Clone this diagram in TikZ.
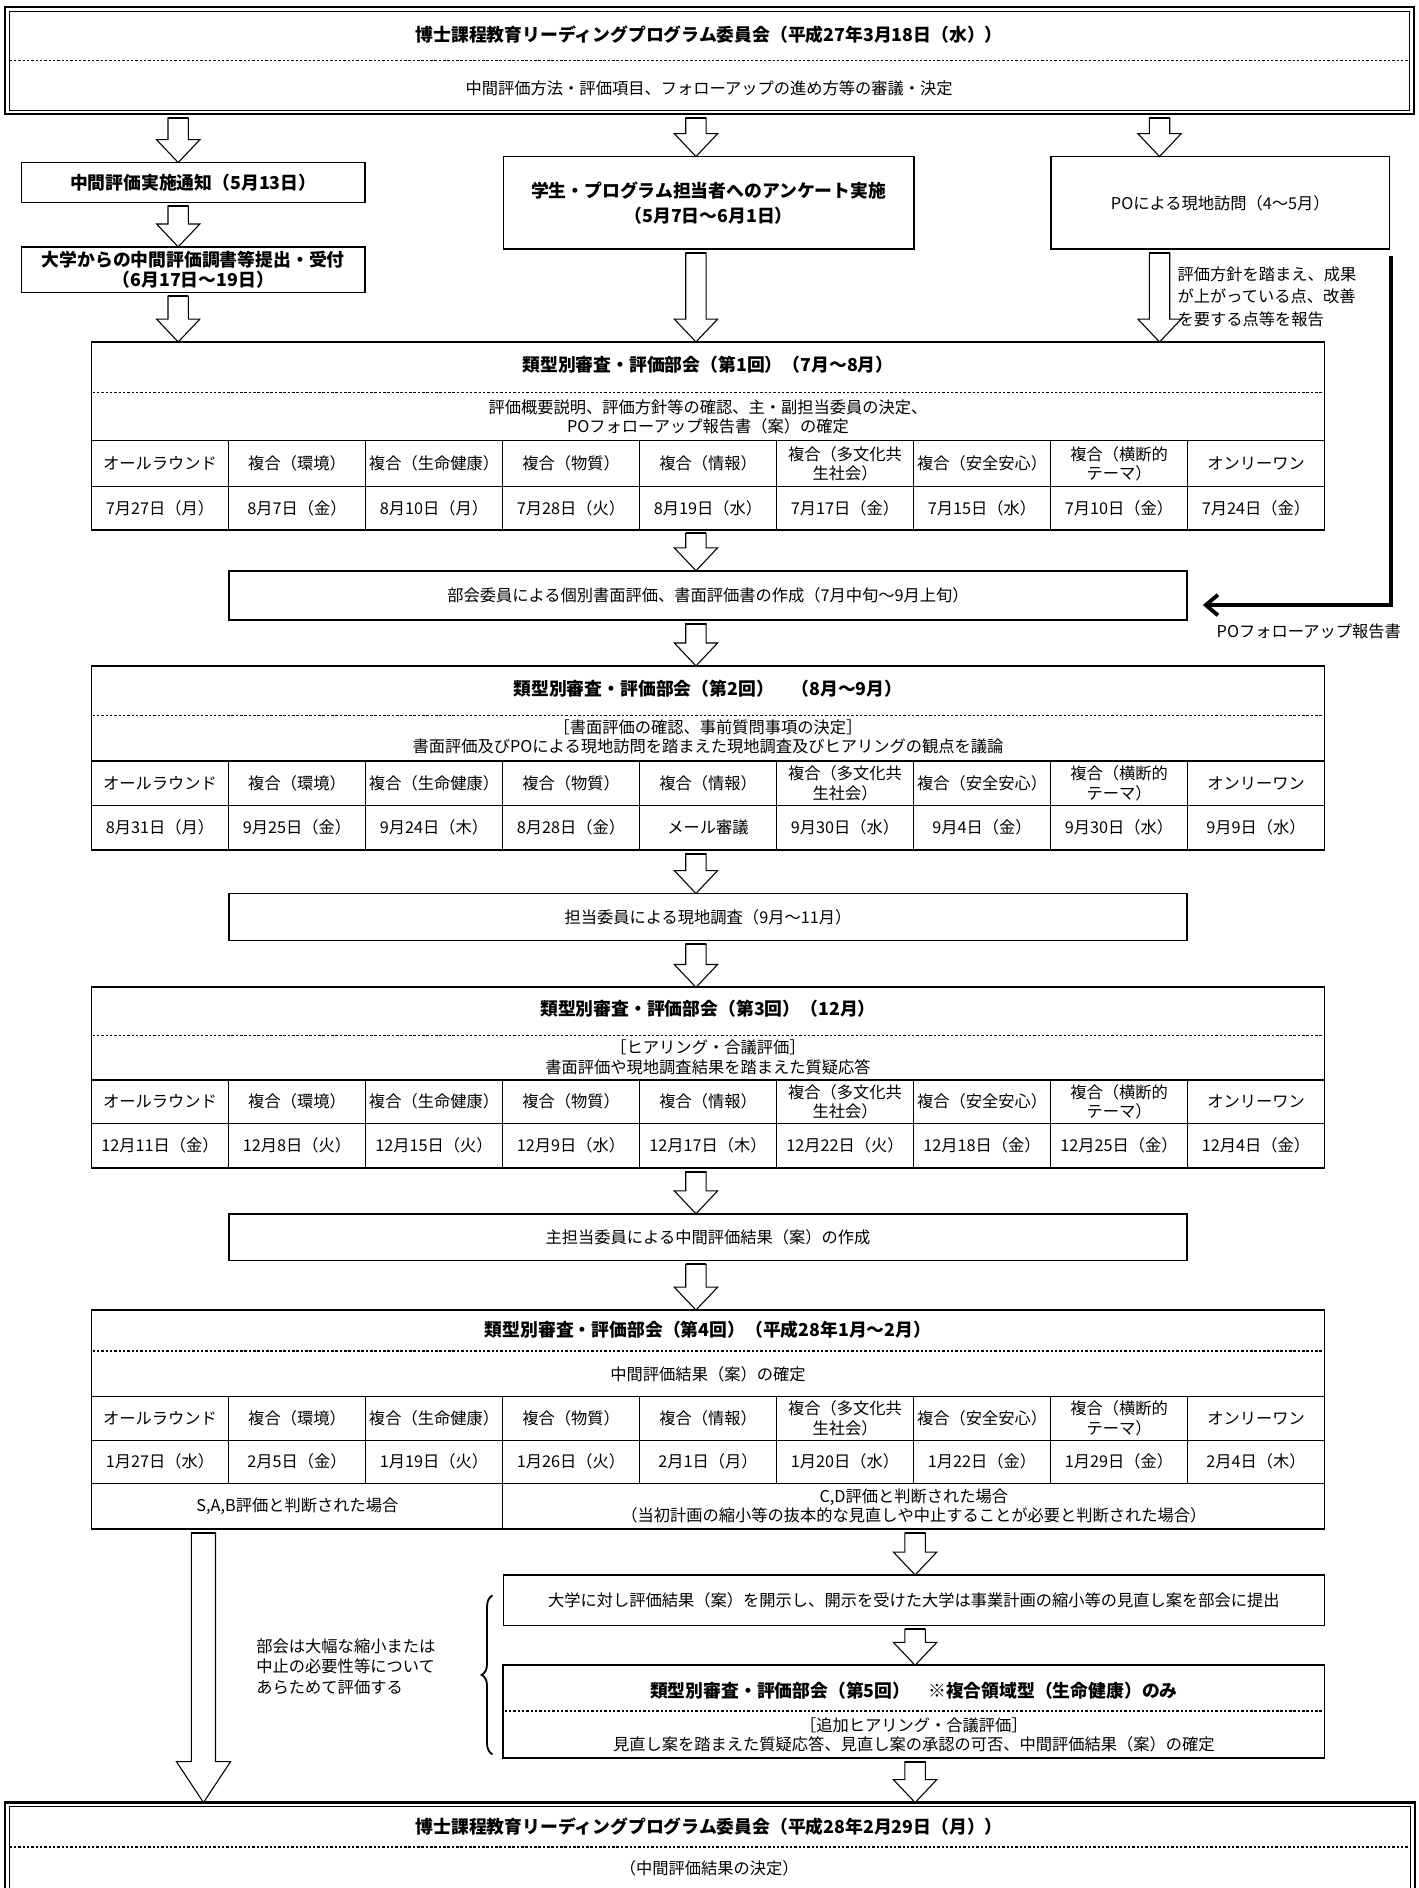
\documentclass[tikz,border=0pt]{standalone}
\usepackage{fontspec}
\setmainfont{Noto Sans CJK JP}
\usetikzlibrary{calc,arrows.meta,decorations.pathreplacing}
\newcommand\tblheads{オールラウンド,複合（環境）,複合（生命健康）,複合（物質）,複合（情報）,{複合（多文化共\\生社会）},複合（安全安心）,{複合（横断的\\テーマ）},オンリーワン}
\tikzset{
  every node/.style={inner sep=0pt, outer sep=0pt},
  txt/.style={font=\fontsize{13.5}{16}\selectfont, align=center},
  ttl/.style={font=\bfseries\fontsize{14.8}{20}\selectfont, align=center},
  outerbox/.style={draw, line width=1.8pt},
  secbox/.style={draw, line width=1.6pt},
  smallbox/.style={draw, line width=1.3pt},
  rule/.style={line width=0.7pt},
  dotrule/.style={line width=1pt, dash pattern=on 2pt off 1.6pt},
  harr/.style={draw, line width=0.9pt, fill=white, line join=miter},
  poarrow/.style={line width=3.2pt, -{Straight Barb[length=10pt,width=17pt]}},
}
% #1 source point, #2 target point, #3 shaft half width, #4 head half width, #5 head length
\newcommand\harrow[5]{%
  \draw[harr] let \p1=(#1), \p2=(#2) in
    (\x1-#3pt,\y1-3pt) -- (\x1-#3pt,\y2+#5pt) -- (\x1-#4pt,\y2+#5pt) -- (\x1,\y2)
    -- (\x1+#4pt,\y2+#5pt) -- (\x1+#3pt,\y2+#5pt) -- (\x1+#3pt,\y1-3pt) -- cycle;
  \draw[line width=1.8pt] let \p1=(#1) in (\x1-#3pt,\y1-3pt) -- (\x1+#3pt,\y1-3pt);}
% #1 prefix, #2 y top, #3 y middle, #4 y bottom, #5 dates
\newcommand\sectable[5]{%
  \draw[line width=1pt] (76,-#2) -- (1100,-#2);
  \draw[rule] (76,-#3) -- (1100,-#3);
  \foreach \k in {1,...,8} {\draw[rule] ({76+\k*113.78},-#2) -- ({76+\k*113.78},-#4);}
  \foreach \h [count=\i] in \tblheads {\node[txt] (#1h\i) at ({76+(\i-0.5)*113.78},{-(#2+#3)/2}) {\h};}
  \foreach \d [count=\i] in {#5} {\node[txt] (#1d\i) at ({76+(\i-0.5)*113.78},{-(#3+#4)/2}) {\d};}
}
\begin{document}
\begin{tikzpicture}[x=1pt,y=1pt]
\useasboundingbox (0,0) rectangle (1178,-1568);
\fill[white] (0,0) rectangle (1178,-1568);
\coordinate (cL) at (148,0);
\coordinate (cM) at (578,0);
\coordinate (cR) at (963,0);
\coordinate (cD) at (760,0);
\coordinate (cLL) at (169,0);

% top box
\node[outerbox, minimum width=1170pt, minimum height=89pt] (topbox) at (589,-50.5) {};
\draw[line width=0.7pt] ([shift={(3.5,-3.5)}]topbox.north west) rectangle ([shift={(-3.5,3.5)}]topbox.south east);
\node[ttl] (toptitle) at (589,-29) {博士課程教育リーディングプログラム委員会（平成27年3月18日（水））};
\draw[dotrule] (8,-50) -- (1170,-50);
\node[txt] (topsub) at (589,-73) {中間評価方法・評価項目、フォローアップの進め方等の審議・決定};

% second level boxes
\node[smallbox, ttl, minimum width=285pt, minimum height=33pt] (n1) at (160.5,-151.5) {中間評価実施通知（5月13日）};
\node[smallbox, ttl, font=\bfseries\fontsize{14.8}{16}\selectfont, minimum width=285pt, minimum height=38pt] (n2) at (160.5,-224) {大学からの中間評価調書等提出・受付\\（6月17日〜19日）};
\node[smallbox, ttl, font=\bfseries\fontsize{14.8}{21}\selectfont, minimum width=341pt, minimum height=77pt] (midbox) at (588.5,-168.5) {学生・プログラム担当者へのアンケート実施\\（5月7日〜6月1日）};
\node[smallbox, txt, minimum width=281pt, minimum height=77pt] (pobox) at (1013.5,-168.5) {POによる現地訪問（4〜5月）};
\node[txt, align=left, anchor=west, font=\fontsize{13.5}{18.5}\selectfont] (pocomment) at (978,-246.5) {評価方針を踏まえ、成果\\が上がっている点、改善\\を要する点等を報告};

\harrow{topbox.south -| cL}{n1.north -| cL}{8.5}{18}{19}
\harrow{topbox.south -| cM}{midbox.north -| cM}{8.5}{18}{19}
\harrow{topbox.south -| cR}{pobox.north -| cR}{8.5}{18}{19}
\harrow{n1.south -| cL}{n2.north -| cL}{8.5}{18}{19}

% section 1
\node[secbox, minimum width=1024pt, minimum height=156pt] (s1) at (588,-362) {};
\node[ttl] (s1t) at (588,-303) {類型別審査・評価部会（第1回）（7月〜8月）};
\draw[dotrule] (77,-326) -- (1099,-326);
\node[txt] (s1s) at (588,-346) {評価概要説明、評価方針等の確認、主・副担当委員の決定、\\POフォローアップ報告書（案）の確定};
\sectable{s1}{366}{404}{440}{7月27日（月）,8月7日（金）,8月10日（月）,7月28日（火）,8月19日（水）,7月17日（金）,7月15日（水）,7月10日（金）,7月24日（金）}

\harrow{n2.south -| cL}{s1.north -| cL}{8.5}{18}{19}
\harrow{midbox.south -| cM}{s1.north -| cM}{8.5}{18}{19}
\harrow{pobox.south -| cR}{s1.north -| cR}{8.5}{18}{19}

% box A
\node[smallbox, txt, minimum width=796pt, minimum height=41pt] (boxA) at (588,-494.5) {部会委員による個別書面評価、書面評価書の作成（7月中旬〜9月上旬）};
\harrow{s1.south -| cM}{boxA.north -| cM}{8.5}{18}{19}
\coordinate (pocorner) at (1155,-213);
\draw[poarrow] (pocorner) |- ($(boxA.east)+(13,-8)$);
\node[txt] (polabel) at (1087,-524.5) {POフォローアップ報告書};

% section 2
\node[secbox, minimum width=1024pt, minimum height=153pt] (s2) at (588,-629.5) {};
\harrow{boxA.south -| cM}{s2.north -| cM}{8.5}{18}{19}
\node[ttl] (s2t) at (588,-572) {類型別審査・評価部会（第2回）　（8月〜9月）};
\draw[dotrule] (77,-594) -- (1099,-594);
\node[txt] (s2s) at (588,-612) {［書面評価の確認、事前質問事項の決定］\\書面評価及びPOによる現地訪問を踏まえた現地調査及びヒアリングの観点を議論};
\sectable{s2}{632}{669}{706}{8月31日（月）,9月25日（金）,9月24日（木）,8月28日（金）,メール審議,9月30日（水）,9月4日（金）,9月30日（水）,9月9日（水）}

% box B
\node[smallbox, txt, minimum width=796pt, minimum height=39pt] (boxB) at (588,-761.5) {担当委員による現地調査（9月〜11月）};
\harrow{s2.south -| cM}{boxB.north -| cM}{8.5}{18}{19}

% section 3
\node[secbox, minimum width=1024pt, minimum height=150pt] (s3) at (588,-895) {};
\harrow{boxB.south -| cM}{s3.north -| cM}{8.5}{18}{19}
\node[ttl] (s3t) at (588,-838) {類型別審査・評価部会（第3回）（12月）};
\draw[dotrule] (77,-860) -- (1099,-860);
\node[txt] (s3s) at (588,-878) {［ヒアリング・合議評価］\\書面評価や現地調査結果を踏まえた質疑応答};
\sectable{s3}{897}{933}{970}{12月11日（金）,12月8日（火）,12月15日（火）,12月9日（水）,12月17日（木）,12月22日（火）,12月18日（金）,12月25日（金）,12月4日（金）}

% box C
\node[smallbox, txt, minimum width=796pt, minimum height=39pt] (boxC) at (588,-1027.5) {主担当委員による中間評価結果（案）の作成};
\harrow{s3.south -| cM}{boxC.north -| cM}{8.5}{18}{19}

% section 4
\node[secbox, minimum width=1024pt, minimum height=182pt] (s4) at (588,-1179) {};
\harrow{boxC.south -| cM}{s4.north -| cM}{8.5}{18}{19}
\node[ttl] (s4t) at (588,-1104) {類型別審査・評価部会（第4回）（平成28年1月〜2月）};
\draw[dotrule] (77,-1122) -- (1099,-1122);
\node[txt] (s4s) at (588,-1141) {中間評価結果（案）の確定};
\sectable{s4}{1160}{1196}{1232}{1月27日（水）,2月5日（金）,1月19日（火）,1月26日（火）,2月1日（月）,1月20日（水）,1月22日（金）,1月29日（金）,2月4日（木）}
\draw[rule] (76,-1232) -- (1100,-1232);
\draw[rule] (417.3,-1232) -- (417.3,-1270);
\node[txt] (s4l) at (247,-1251) {S,A,B評価と判断された場合};
\node[txt] (s4r) at (759,-1251) {C,D評価と判断された場合\\（当初計画の縮小等の抜本的な見直しや中止することが必要と判断された場合）};

% box D and section 5
\node[smallbox, txt, minimum width=682pt, minimum height=42pt] (boxD) at (759,-1329) {大学に対し評価結果（案）を開示し、開示を受けた大学は事業計画の縮小等の見直し案を部会に提出};
\harrow{s4.south -| cD}{boxD.north -| cD}{8.5}{18}{19}
\node[secbox, minimum width=682pt, minimum height=77pt] (s5) at (759,-1421.5) {};
\harrow{boxD.south -| cD}{s5.north -| cD}{8.5}{18}{19}
\node[ttl] (s5t) at (759,-1404) {類型別審査・評価部会（第5回）　※複合領域型（生命健康）のみ};
\draw[dotrule] (419,-1421) -- (1099,-1421);
\node[txt] (s5s) at (759,-1441) {［追加ヒアリング・合議評価］\\見直し案を踏まえた質疑応答、見直し案の承認の可否、中間評価結果（案）の確定};

% brace and note
\draw[decorate, decoration={brace, amplitude=9pt}, line width=1.5pt] (409,-1457) -- (409,-1325);
\node[txt, align=left, anchor=west, font=\fontsize{13.5}{17}\selectfont] (bracenote) at (213,-1384) {部会は大幅な縮小または\\中止の必要性等について\\あらためて評価する};

% bottom box
\node[outerbox, minimum width=1171pt, minimum height=75pt] (botbox) at (589.5,-1534.5) {};
\draw[line width=0.7pt] ([shift={(3.5,-3.5)}]botbox.north west) rectangle ([shift={(-3.5,3.5)}]botbox.south east);
\node[ttl] (bott) at (589,-1517) {博士課程教育リーディングプログラム委員会（平成28年2月29日（月））};
\draw[dotrule] (8,-1534) -- (1171,-1534);
\node[txt] (bots) at (589,-1552) {（中間評価結果の決定）};

\harrow{s5.south -| cD}{botbox.north -| cD}{8.5}{18}{19}
\harrow{s4.south -| cLL}{botbox.north -| cLL}{10}{22.5}{34}
\end{tikzpicture}
\end{document}
